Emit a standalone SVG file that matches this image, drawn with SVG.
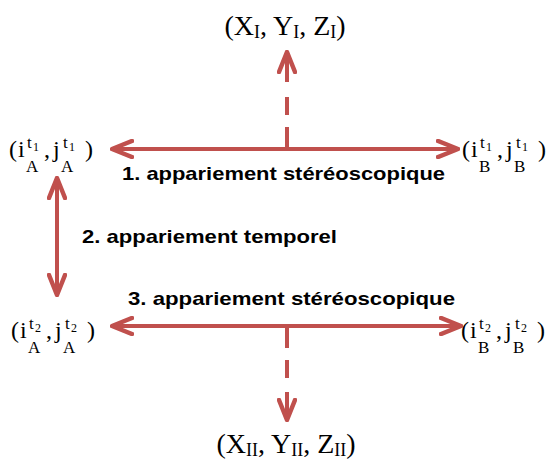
<svg xmlns="http://www.w3.org/2000/svg" width="547" height="466" viewBox="0 0 547 466">
<defs>
<style>
.ln{stroke:#c0504d;stroke-width:4;fill:none;stroke-linecap:butt}
.lbl{font-family:"Liberation Sans",Arial,sans-serif;font-weight:bold;font-size:19px;fill:#000}
.m{font-family:"Liberation Serif","DejaVu Serif",serif;font-size:24px;fill:#000}
.X{font-family:"Liberation Serif","DejaVu Serif",serif;font-size:28px;fill:#000}
.sb{font-size:18px}
.t{font-size:17px}
.one{font-size:12px}
.a{font-size:17px}
</style>
<marker id="ah" viewBox="0 0 24 20" refX="22" refY="10" markerWidth="24" markerHeight="20" orient="auto-start-reverse" markerUnits="userSpaceOnUse">
<path d="M2,2 L22,10 L2,18" fill="none" stroke="#c0504d" stroke-width="4.5" stroke-linejoin="round" stroke-linecap="round"/>
</marker>
</defs>
<rect width="547" height="466" fill="#fff"/>
<g id="connectors">
<line class="ln" x1="112" y1="149" x2="458" y2="149" marker-start="url(#ah)" marker-end="url(#ah)"/>
<line class="ln" x1="112" y1="326" x2="461" y2="326" marker-start="url(#ah)" marker-end="url(#ah)"/>
<line class="ln" x1="57" y1="178" x2="57" y2="295" marker-start="url(#ah)" marker-end="url(#ah)"/>
<line class="ln" x1="287" y1="149" x2="287" y2="52" stroke-dasharray="22 12 18 15 100" marker-end="url(#ah)"/>
<line class="ln" x1="287" y1="326" x2="287" y2="420" stroke-dasharray="22 12 18 14 100" marker-end="url(#ah)"/>
</g>
<g id="n-XI">
<text class="X" x="285" y="35" text-anchor="middle">(X<tspan class="sb" dy="3">I</tspan><tspan dy="-3">, Y</tspan><tspan class="sb" dy="3">I</tspan><tspan dy="-3">, Z</tspan><tspan class="sb" dy="3">I</tspan><tspan dy="-3">)</tspan></text>
</g>
<g id="n-XII">
<text class="X" x="286" y="453" text-anchor="middle">(X<tspan class="sb" dy="3">II</tspan><tspan dy="-3">, Y</tspan><tspan class="sb" dy="3">II</tspan><tspan dy="-3">, Z</tspan><tspan class="sb" dy="3">II</tspan><tspan dy="-3">)</tspan></text>
</g>
<g id="n-A1">
<text class="m" x="9" y="157">(</text><text class="m" x="18" y="157">i</text>
<text class="m t" x="27" y="148">t</text><text class="m one" x="33" y="151">1</text>
<text class="m a" x="26" y="172">A</text>
<text class="m" x="44" y="157">,</text><text class="m" x="53" y="157">j</text>
<text class="m t" x="63" y="148">t</text><text class="m one" x="69" y="151">1</text>
<text class="m a" x="61" y="172">A</text>
<text class="m" x="85" y="157">)</text>
</g>
<g id="n-B1" transform="translate(453,0)">
<text class="m" x="9" y="157">(</text><text class="m" x="18" y="157">i</text>
<text class="m t" x="27" y="148">t</text><text class="m one" x="33" y="151">1</text>
<text class="m a" x="26" y="172">B</text>
<text class="m" x="44" y="157">,</text><text class="m" x="53" y="157">j</text>
<text class="m t" x="63" y="148">t</text><text class="m one" x="69" y="151">1</text>
<text class="m a" x="61" y="172">B</text>
<text class="m" x="85" y="157">)</text>
</g>
<g id="n-A2" transform="translate(2,181)">
<text class="m" x="9" y="157">(</text><text class="m" x="18" y="157">i</text>
<text class="m t" x="27" y="148">t</text><text class="m one" x="33" y="151">2</text>
<text class="m a" x="26" y="172">A</text>
<text class="m" x="44" y="157">,</text><text class="m" x="53" y="157">j</text>
<text class="m t" x="63" y="148">t</text><text class="m one" x="69" y="151">2</text>
<text class="m a" x="61" y="172">A</text>
<text class="m" x="85" y="157">)</text>
</g>
<g id="n-B2" transform="translate(452,181)">
<text class="m" x="9" y="157">(</text><text class="m" x="18" y="157">i</text>
<text class="m t" x="27" y="148">t</text><text class="m one" x="33" y="151">2</text>
<text class="m a" x="26" y="172">B</text>
<text class="m" x="44" y="157">,</text><text class="m" x="53" y="157">j</text>
<text class="m t" x="63" y="148">t</text><text class="m one" x="69" y="151">2</text>
<text class="m a" x="61" y="172">B</text>
<text class="m" x="85" y="157">)</text>
</g>
<g id="labels">
<text class="lbl" x="122" y="180" textLength="323" lengthAdjust="spacingAndGlyphs">1. appariement stéréoscopique</text>
<text class="lbl" x="82" y="243" textLength="255" lengthAdjust="spacingAndGlyphs">2. appariement temporel</text>
<text class="lbl" x="128" y="305" textLength="327" lengthAdjust="spacingAndGlyphs">3. appariement stéréoscopique</text>
</g>
</svg>
